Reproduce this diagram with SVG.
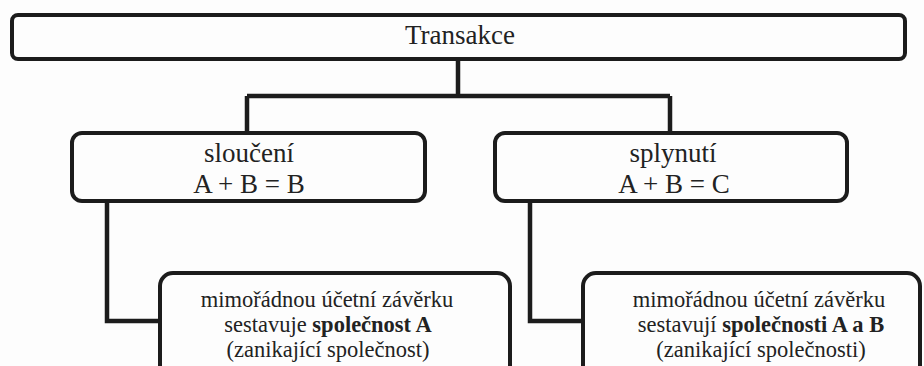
<svg xmlns="http://www.w3.org/2000/svg" width="924" height="366" viewBox="0 0 924 366">
<style>
.box{fill:#fdfdfd;stroke:#1c1c1c;stroke-width:4}
.con{fill:none;stroke:#1c1c1c;stroke-width:4.5;stroke-linejoin:miter}
text{font-family:'Liberation Serif','DejaVu Serif','Times New Roman',serif;fill:#222;text-anchor:middle}
.big{font-size:27px}
.sm{font-size:22.5px}
.b{font-weight:bold}
</style>
<rect width="924" height="366" fill="#fdfdfd"/>
<g id="connectors">
<path class="con" d="M458,59 V96 M247,96 H670 M247,96 V133 M670,96 V133"/>
<path class="con" d="M107,201 V321 H160"/>
<path class="con" d="M530,201 V321 H583"/>
</g>
<g id="transakce">
<rect class="box" x="12" y="15" width="893" height="44" rx="6"/>
<text class="big" x="460" y="44">Transakce</text>
</g>
<g id="slouceni">
<rect class="box" x="72" y="133" width="353" height="68" rx="10"/>
<text class="big" x="249" y="162">sloučení</text>
<text class="big" x="249" y="193">A + B = B</text>
</g>
<g id="splynuti">
<rect class="box" x="495" y="133" width="352" height="68" rx="10"/>
<text class="big" x="673" y="162">splynutí</text>
<text class="big" x="674" y="193">A + B = C</text>
</g>
<g id="zaverka-a">
<rect class="box" x="160" y="273" width="350" height="110" rx="13"/>
<text class="sm" x="327" y="307">mimořádnou účetní závěrku</text>
<text class="sm" x="328" y="332">sestavuje <tspan class="b">společnost A</tspan></text>
<text class="sm" x="328" y="357">(zanikající společnost)</text>
</g>
<g id="zaverka-ab">
<rect class="box" x="583" y="273" width="337" height="110" rx="13"/>
<text class="sm" x="759" y="307">mimořádnou účetní závěrku</text>
<text class="sm" x="761" y="332">sestavují <tspan class="b">společnosti A a B</tspan></text>
<text class="sm" x="761" y="357">(zanikající společnosti)</text>
</g>
</svg>
